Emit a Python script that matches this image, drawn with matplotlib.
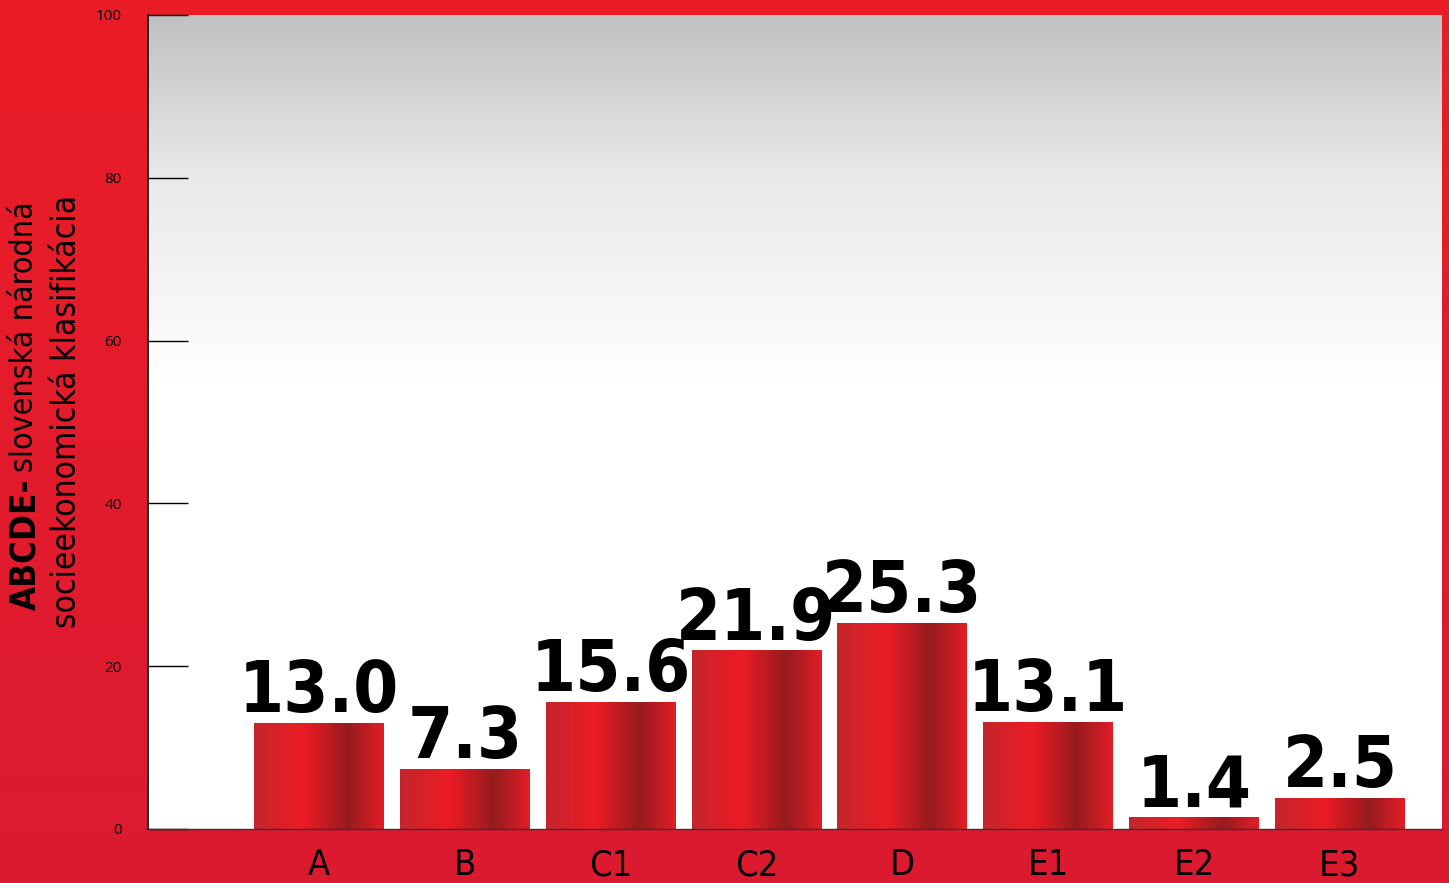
import numpy as np
import matplotlib
matplotlib.use("Agg")
import matplotlib.pyplot as plt
from matplotlib import font_manager
from matplotlib.font_manager import FontProperties
from matplotlib.colors import LinearSegmentedColormap

# data
categories = ["A", "B", "C1", "C2", "D", "E1", "E2", "E3"]
bar_values = [13.0, 7.3, 15.6, 21.9, 25.3, 13.1, 1.4, 3.8]
value_labels = ["13.0", "7.3", "15.6", "21.9", "25.3", "13.1", "1.4", "2.5"]
y_ticks = [0, 20, 40, 60, 80, 100]


def pick_font(bold):
    """find a narrow / condensed face if one is installed"""
    want = 700 if bold else 400
    cands = []
    for f in font_manager.fontManager.ttflist:
        narrowish = ("narrow" in f.name.lower() or "condensed" in f.name.lower()
                     or f.stretch in ("condensed", "semi-condensed", 500 - 1))
        if not narrowish or f.style != "normal":
            continue
        w = f.weight if isinstance(f.weight, int) else (700 if "bold" in str(f.weight) else 400)
        cands.append((abs(w - want), 0 if "Liberation" in f.name else 1, f.fname))
    if cands:
        cands.sort()
        return FontProperties(fname=cands[0][2]), True
    return FontProperties(family="Liberation Sans",
                          weight="bold" if bold else "normal"), False


fp_bold, narrow_found = pick_font(True)
fp_reg, _ = pick_font(False)

W, H = 1449, 883
fig = plt.figure(figsize=(W / 100, H / 100), dpi=100)

# red page background, vertical gradient
bg = fig.add_axes([0, 0, 1, 1], zorder=-10)
bg_cmap = LinearSegmentedColormap.from_list("bg", ["#EB1D27", "#DB1A31"])
bg.imshow(np.linspace(0, 1, 256).reshape(-1, 1), cmap=bg_cmap, aspect="auto",
          extent=[0, 1, 0, 1])
bg.set_axis_off()

ax = fig.add_axes([148 / W, (H - 829) / H, 1294 / W, 814 / H])
ax.patch.set_alpha(0)

# grey-to-white plot background
grad_cmap = LinearSegmentedColormap.from_list(
    "panel", [(0, "#FFFFFF"), (0.55, "#FFFFFF"), (0.8, "#E8E9EA"), (1, "#C0C1C3")])
ax.imshow(np.linspace(0, 1, 256).reshape(-1, 1), cmap=grad_cmap, aspect="auto",
          origin="lower", extent=[0, 1, 0, 1], transform=ax.transAxes, zorder=0)

# bars with a horizontal metallic red gradient
bar_cmap = LinearSegmentedColormap.from_list(
    "bar", [(0, "#C4252D"), (0.38, "#EC1C24"), (0.72, "#961B1F"), (1, "#E21E26")])
x = np.arange(len(categories))
bars = ax.bar(x, bar_values, width=0.89, color="none", zorder=2)
for b in bars:
    x0, y0 = b.get_x(), b.get_y()
    ax.imshow(np.linspace(0, 1, 256).reshape(1, -1), cmap=bar_cmap, aspect="auto",
              extent=[x0, x0 + b.get_width(), y0, y0 + b.get_height()], zorder=2)
ax.set_xlim(-1.172, 7.70)
ax.set_ylim(0, 100)

lab_size = 52 if narrow_found else 50
for xi, v, lab in zip(x, bar_values, value_labels):
    ax.annotate(lab, (xi, v), xytext=(0, 8), textcoords="offset points",
                ha="center", va="baseline", fontproperties=fp_bold,
                fontsize=lab_size, color="black", zorder=3)

ax.set_xticks(x)
ax.set_xticklabels(categories, fontproperties=fp_reg, fontsize=26)
ax.tick_params(axis="x", length=0, pad=14)
ax.set_yticks(y_ticks)
ax.set_yticklabels([str(t) for t in y_ticks], fontsize=11, family="Open Sans")
ax.tick_params(axis="y", direction="in", length=29, width=1, pad=19, colors="black")

for s in ["top", "right"]:
    ax.spines[s].set_visible(False)
ax.spines["left"].set_linewidth(1.2)
ax.spines["bottom"].set_linewidth(1.0)
ax.spines["bottom"].set_color("#333333")
ax.spines["left"].set_zorder(4)

# two-line rotated y label, first words in bold
yl_size = 23 if narrow_found else 20
fig.canvas.draw()
r = fig.canvas.get_renderer()
t1 = fig.text(25 / W, 1 - 610 / H, "ABCDE-", rotation=90, ha="center", va="bottom",
              fontproperties=fp_bold, fontsize=yl_size + 2, color="black")
ext = t1.get_window_extent(r)
fig.text(25 / W, (ext.y1 + 6) / H, "slovenská národná", rotation=90, ha="center",
         va="bottom", fontproperties=fp_reg, fontsize=yl_size, color="black")
fig.text(67 / W, 1 - 411 / H, "socieekonomická klasifikácia", rotation=90,
         ha="center", va="center", fontproperties=fp_reg, fontsize=yl_size + 1,
         color="black")

fig.savefig("out.png", dpi=100)
